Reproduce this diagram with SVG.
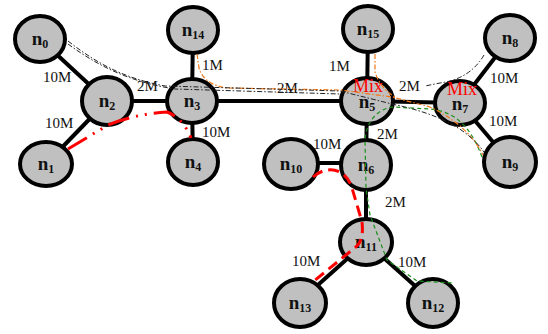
<svg xmlns="http://www.w3.org/2000/svg" width="548" height="334" viewBox="0 0 548 334">
<style>
.e{stroke:#000;stroke-width:4;fill:none}
.nd{fill:#c0c0c0;stroke:#000;stroke-width:4}
.nl{font-family:"Liberation Serif",serif;font-weight:bold;font-size:19px;fill:#111;text-anchor:middle}
.sb{font-size:12px}
.el{font-family:"Liberation Serif",serif;font-size:15px;fill:#111}
.mix{font-family:"Liberation Serif",serif;font-size:18px;fill:#ff0000;text-anchor:middle}
.red{stroke:#ff0000;stroke-width:3;fill:none}
.grn{stroke:#1a8f1a;stroke-width:1.2;fill:none;stroke-dasharray:4 3}
.org{stroke:#f07818;stroke-width:1.2;fill:none;stroke-dasharray:5 2 1.5 2}
.blk{stroke:#222;stroke-width:1;fill:none;stroke-dasharray:5 2 1.5 2}
</style>
<rect width="548" height="334" fill="#fff"/>
<g id="connectors">
<line class="e" x1="40" y1="39" x2="107" y2="101"/>
<line class="e" x1="46" y1="164" x2="107" y2="101"/>
<line class="e" x1="107" y1="101" x2="192" y2="101"/>
<line class="e" x1="192" y1="101" x2="193" y2="30"/>
<line class="e" x1="192" y1="101" x2="193" y2="162"/>
<line class="e" x1="192" y1="101" x2="367" y2="101"/>
<line class="e" x1="367" y1="101" x2="368" y2="29"/>
<line class="e" x1="367" y1="101" x2="460" y2="103"/>
<line class="e" x1="367" y1="101" x2="366" y2="165"/>
<line class="e" x1="460" y1="103" x2="510" y2="38"/>
<line class="e" x1="460" y1="103" x2="510" y2="162"/>
<line class="e" x1="366" y1="163" x2="291" y2="163"/>
<line class="e" x1="366" y1="165" x2="366" y2="242"/>
<line class="e" x1="366" y1="242" x2="300" y2="301"/>
<line class="e" x1="366" y1="242" x2="433" y2="302"/>
<text class="el" x="43" y="82">10M</text>
<text class="el" x="45" y="128">10M</text>
<text class="el" x="137" y="91">2M</text>
<text class="el" x="202" y="70">1M</text>
<text class="el" x="202" y="137">10M</text>
<text class="el" x="277" y="93">2M</text>
<text class="el" x="329" y="71">1M</text>
<text class="el" x="399" y="91">2M</text>
<text class="el" x="490" y="83">10M</text>
<text class="el" x="489" y="126">10M</text>
<text class="el" x="377" y="139">2M</text>
<text class="el" x="313" y="149">10M</text>
<text class="el" x="385" y="207">2M</text>
<text class="el" x="292" y="266">10M</text>
<text class="el" x="398" y="267">10M</text>
</g>
<g id="n0"><ellipse class="nd" cx="40" cy="39" rx="25" ry="23"/><text class="nl" x="40" y="45">n<tspan class="sb" dy="3">0</tspan></text></g>
<g id="n1"><ellipse class="nd" cx="46" cy="164" rx="26" ry="22"/><text class="nl" x="46" y="170">n<tspan class="sb" dy="3">1</tspan></text></g>
<g id="n2"><ellipse class="nd" cx="107" cy="101" rx="25" ry="24"/><text class="nl" x="107" y="107">n<tspan class="sb" dy="3">2</tspan></text></g>
<g id="n3"><ellipse class="nd" cx="192" cy="101" rx="25" ry="22"/><text class="nl" x="192" y="107">n<tspan class="sb" dy="3">3</tspan></text></g>
<g id="n4"><ellipse class="nd" cx="193" cy="162" rx="25" ry="23"/><text class="nl" x="193" y="168">n<tspan class="sb" dy="3">4</tspan></text></g>
<g id="n14"><ellipse class="nd" cx="193" cy="30" rx="25" ry="23"/><text class="nl" x="193" y="36">n<tspan class="sb" dy="3">14</tspan></text></g>
<g id="n15"><ellipse class="nd" cx="368" cy="29" rx="25" ry="23"/><text class="nl" x="368" y="35">n<tspan class="sb" dy="3">15</tspan></text></g>
<g id="n5"><ellipse class="nd" cx="367" cy="101" rx="26" ry="23"/><text class="nl" x="367" y="108">n<tspan class="sb" dy="3">5</tspan></text><text class="mix" x="368" y="92">Mix</text></g>
<g id="n7"><ellipse class="nd" cx="460" cy="103" rx="25" ry="22"/><text class="nl" x="460" y="110">n<tspan class="sb" dy="3">7</tspan></text><text class="mix" x="462" y="95">Mix</text></g>
<g id="n8"><ellipse class="nd" cx="510" cy="38" rx="25" ry="23"/><text class="nl" x="510" y="44">n<tspan class="sb" dy="3">8</tspan></text></g>
<g id="n9"><ellipse class="nd" cx="510" cy="162" rx="26" ry="25"/><text class="nl" x="510" y="168">n<tspan class="sb" dy="3">9</tspan></text></g>
<g id="n10"><ellipse class="nd" cx="291" cy="164" rx="27" ry="25"/><text class="nl" x="291" y="170">n<tspan class="sb" dy="3">10</tspan></text></g>
<g id="n6"><ellipse class="nd" cx="366" cy="165" rx="25" ry="25"/><text class="nl" x="366" y="171">n<tspan class="sb" dy="3">6</tspan></text></g>
<g id="n11"><ellipse class="nd" cx="366" cy="242" rx="26" ry="23"/><text class="nl" x="366" y="248">n<tspan class="sb" dy="3">11</tspan></text></g>
<g id="n13"><ellipse class="nd" cx="300" cy="303" rx="26" ry="24"/><text class="nl" x="300" y="309">n<tspan class="sb" dy="3">13</tspan></text></g>
<g id="n12"><ellipse class="nd" cx="433" cy="303" rx="25" ry="24"/><text class="nl" x="433" y="309">n<tspan class="sb" dy="3">12</tspan></text></g>
<g id="routes">
<path class="red" stroke-dasharray="22 7 2 7 2 7" d="M68,149 L108,125 Q135,114 167,112 Q183,118 191,138"/>
<path class="red" stroke-dasharray="11 6" d="M313,177 C325,166 345,166 352,188 L362,222 Q364,239 357,246 L314,281"/>
<path class="grn" d="M482,157 C472,130 458,112 430,109 L392,107 C375,110 366,124 365,140 L366,188 L370,215 L387,260 L417,281 L453,283"/>
<path class="org" d="M197,54 L199,68 Q204,85 228,88 L340,90 L392,97 L430,107 Q468,125 483,155"/>
<path class="org" d="M375,54 L375,72 Q380,88 395,97"/>
<path class="blk" d="M68,41 C95,62 122,78 165,86 L340,91 L392,104 C430,112 465,125 484,152"/>
<path class="blk" d="M68,44 C98,66 130,82 175,89 L340,94"/>
<path class="blk" d="M484,55 Q470,79 440,83 L425,86"/>
</g>
</svg>
